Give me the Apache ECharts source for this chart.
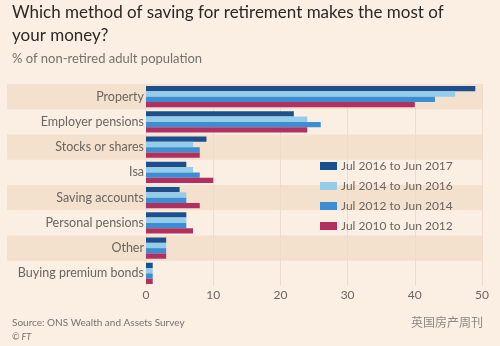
<!DOCTYPE html>
<html><head><meta charset="utf-8">
<script src="https://cdn.jsdelivr.net/npm/echarts@6/dist/echarts.min.js"></script>
<style>html,body{margin:0;padding:0;background:#fbefe4;}#c{width:500px;height:346px;}</style>
</head><body><div id="c"></div>
<script>
const categories = ['Property','Employer pensions','Stocks or shares','Isa','Saving accounts','Personal pensions','Other','Buying premium bonds'];
const seriesNames = ['Jul 2016 to Jun 2017','Jul 2014 to Jun 2016','Jul 2012 to Jun 2014','Jul 2010 to Jun 2012'];
const jul2016 = [49, 22, 9, 6, 5, 6, 3, 1];
const jul2014 = [46, 24, 7, 7, 6, 6, 3, 1];
const jul2012 = [43, 26, 8, 8, 6, 6, 3, 1];
const jul2010 = [40, 24, 8, 10, 8, 7, 3, 1];
const xTicks = [0, 10, 20, 30, 40, 50];
const colors = ['#1b4f8d', '#94cce9', '#3a8ed1', '#b2305f'];

const FONT = 'Lato';
const chart = echarts.init(document.getElementById('c'), null, {renderer:'canvas'});
const values = [jul2016, jul2014, jul2012, jul2010];
chart.setOption({
  backgroundColor: '#fbefe4',
  color: colors,
  textStyle: {fontFamily: FONT},
  title: [
    {text: 'Which method of saving for retirement makes the most of\nyour money?', left: 7, top: -4,
     textStyle: {fontFamily: FONT, fontSize: 17, fontWeight: 'normal', color: '#2c2825', lineHeight: 23}},
    {text: '% of non-retired adult population', left: 7, top: 47,
     textStyle: {fontFamily: FONT, fontSize: 13, fontWeight: 'normal', color: '#76706b'}},
    {text: 'Source: ONS Wealth and Assets Survey', left: 7, top: 313,
     textStyle: {fontFamily: FONT, fontSize: 10, fontWeight: 'normal', color: '#76706b'}},
    {text: '© FT', left: 7, top: 328,
     textStyle: {fontFamily: FONT, fontSize: 9, fontStyle: 'italic', fontWeight: 'normal', color: '#76706b'}},
    {text: '英国房产周刊', right: 12, top: 311,
     textStyle: {fontFamily: 'Noto Sans CJK SC', fontSize: 12, fontWeight: 'normal', color: '#8e8883'}}
  ],
  legend: {
    orient: 'vertical', left: 315, top: 155, itemWidth: 17, itemHeight: 8, itemGap: 8,
    icon: 'rect', data: seriesNames,
    textStyle: {fontFamily: FONT, fontSize: 12, color: '#6b6560', padding: [0,0,0,-1]}
  },
  grid: [
    {left: 7, right: 18, top: 84, height: 202, containLabel: false},
    {left: 146, right: 18, top: 84, height: 202, containLabel: false}
  ],
  xAxis: [
    {gridIndex: 0, type: 'value', min: 0, max: 50, show: false},
    {gridIndex: 1, type: 'value', min: 0, max: 50, interval: 10,
     axisLine: {show: false}, axisTick: {show: false},
     splitLine: {show: true, lineStyle: {color: '#ebdccd', width: 1}},
     axisLabel: {color: '#6b6560', fontSize: 12, margin: 3, fontFamily: FONT,
       formatter: v => xTicks.includes(v) ? String(v) : ''}}
  ],
  yAxis: [
    {gridIndex: 0, type: 'category', data: categories, inverse: true,
     axisLine: {show: false}, axisTick: {show: false}, axisLabel: {show: false},
     splitArea: {show: true, areaStyle: {color: ['#f3e0cd', 'rgba(0,0,0,0)']}}},
    {gridIndex: 1, type: 'category', data: categories, inverse: true,
     axisLine: {show: false}, axisTick: {show: false},
     axisLabel: {color: '#6b6560', fontSize: 12.5, margin: 2, fontFamily: FONT}}
  ],
  series: seriesNames.map((n, i) => ({
    name: n, type: 'bar', xAxisIndex: 1, yAxisIndex: 1, data: values[i],
    barGap: '0%', barCategoryGap: '16%', silent: true, animation: false,
    itemStyle: {color: colors[i]}
  })),
  animation: false
});
</script></body></html>
